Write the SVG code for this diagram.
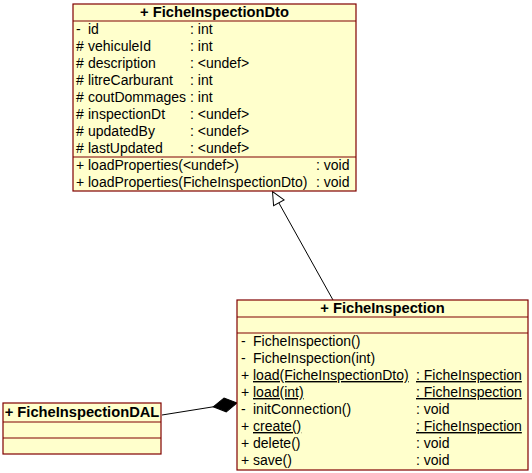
<svg xmlns="http://www.w3.org/2000/svg" width="532" height="473" viewBox="0 0 532 473">
  <style>
    .box { fill: #ffffcc; stroke: #800000; stroke-width: 1.2; }
    .sep { stroke: #800000; stroke-width: 1.2; }
    text { font-family: "Liberation Sans", Arial, sans-serif; font-size: 14px; fill: #000; }
    .title { font-weight: bold; font-size: 14.7px; text-anchor: middle; }
    .u { text-decoration: underline; }
    .edge { stroke: #000; stroke-width: 1; fill: none; }
  </style>
  <defs>
    <marker id="inherit" markerUnits="userSpaceOnUse" viewBox="-15 -8 17 16" refX="0" refY="0" markerWidth="17" markerHeight="16" orient="auto">
      <path d="M0,0 L-13,-6 L-13,6 Z" fill="#fff" stroke="#000" stroke-width="1"/>
    </marker>
    <marker id="compose" markerUnits="userSpaceOnUse" viewBox="-26 -9 28 18" refX="0" refY="0" markerWidth="28" markerHeight="18" orient="auto">
      <path d="M0,0 L-12,-7 L-24,0 L-12,7 Z" fill="#000" stroke="#000" stroke-width="1"/>
    </marker>
  </defs>

  <g id="connectors">
    <line class="edge" x1="333" y1="300" x2="272.5" y2="191.5" marker-end="url(#inherit)"/>
    <line class="edge" x1="162" y1="415" x2="237" y2="403" marker-end="url(#compose)"/>
  </g>

  <g id="FicheInspectionDto">
    <rect class="box" x="73" y="4" width="283" height="187"/>
    <line class="sep" x1="73" y1="21" x2="356" y2="21"/>
    <line class="sep" x1="73" y1="157" x2="356" y2="157"/>
    <text class="title" x="214.5" y="17">+ FicheInspectionDto</text>
    <text x="76" y="34">-</text><text x="88" y="34">id</text><text x="190" y="34">: int</text>
    <text x="76" y="51">#</text><text x="88" y="51">vehiculeId</text><text x="190" y="51">: int</text>
    <text x="76" y="68">#</text><text x="88" y="68">description</text><text x="190" y="68">: &lt;undef&gt;</text>
    <text x="76" y="85">#</text><text x="88" y="85">litreCarburant</text><text x="190" y="85">: int</text>
    <text x="76" y="102">#</text><text x="88" y="102">coutDommages</text><text x="190" y="102">: int</text>
    <text x="76" y="119">#</text><text x="88" y="119">inspectionDt</text><text x="190" y="119">: &lt;undef&gt;</text>
    <text x="76" y="136">#</text><text x="88" y="136">updatedBy</text><text x="190" y="136">: &lt;undef&gt;</text>
    <text x="76" y="153">#</text><text x="88" y="153">lastUpdated</text><text x="190" y="153">: &lt;undef&gt;</text>
    <text x="76" y="170">+</text><text x="88" y="170">loadProperties(&lt;undef&gt;)</text><text x="316" y="170">: void</text>
    <text x="76" y="187">+</text><text x="88" y="187">loadProperties(FicheInspectionDto)</text><text x="316" y="187">: void</text>
  </g>

  <g id="FicheInspection">
    <rect class="box" x="237" y="300" width="291" height="170"/>
    <line class="sep" x1="237" y1="317" x2="528" y2="317"/>
    <line class="sep" x1="237" y1="333" x2="528" y2="333"/>
    <text class="title" x="382.5" y="313">+ FicheInspection</text>
    <text x="241" y="346">-</text><text x="253" y="346">FicheInspection()</text>
    <text x="241" y="363">-</text><text x="253" y="363">FicheInspection(int)</text>
    <text x="241" y="380">+</text><text class="u" x="253" y="380">load(FicheInspectionDto)</text><text class="u" x="416" y="380">: FicheInspection</text>
    <text x="241" y="397">+</text><text class="u" x="253" y="397">load(int)</text><text class="u" x="416" y="397">: FicheInspection</text>
    <text x="241" y="414">-</text><text x="253" y="414">initConnection()</text><text x="416" y="414">: void</text>
    <text x="241" y="431">+</text><text class="u" x="253" y="431">create()</text><text class="u" x="416" y="431">: FicheInspection</text>
    <text x="241" y="448">+</text><text x="253" y="448">delete()</text><text x="416" y="448">: void</text>
    <text x="241" y="465">+</text><text x="253" y="465">save()</text><text x="416" y="465">: void</text>
  </g>

  <g id="FicheInspectionDAL">
    <rect class="box" x="3" y="403" width="158" height="51"/>
    <line class="sep" x1="3" y1="422" x2="161" y2="422"/>
    <line class="sep" x1="3" y1="438" x2="161" y2="438"/>
    <text class="title" x="82" y="417">+ FicheInspectionDAL</text>
  </g>
</svg>
